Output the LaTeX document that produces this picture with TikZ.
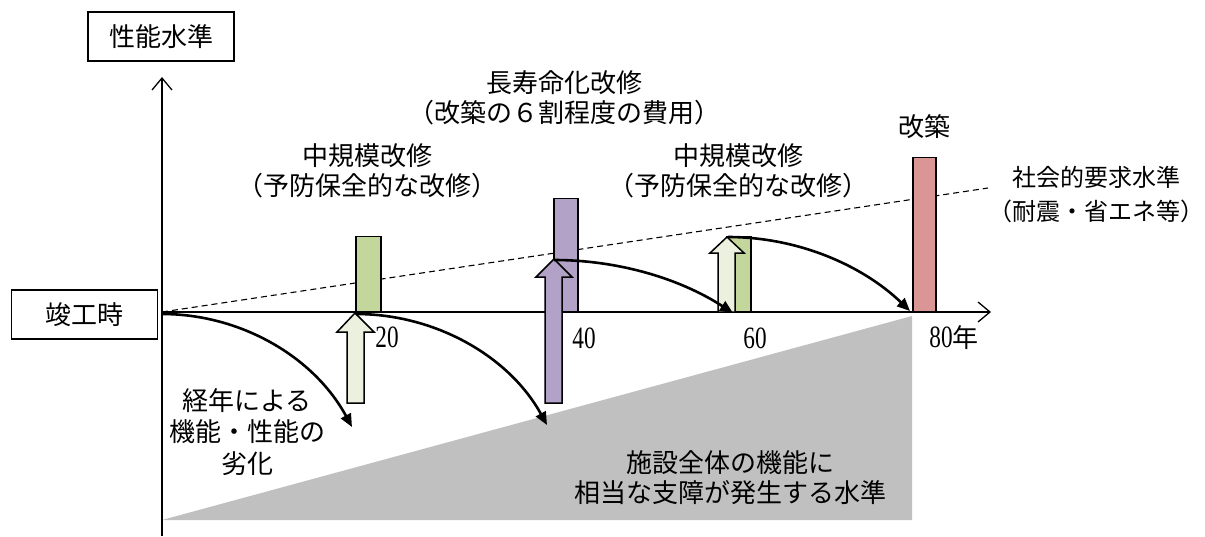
\documentclass[tikz,border=0pt]{standalone}
\usepackage{fontspec}
\setmainfont{Noto Sans CJK JP}
\newfontfamily\numfont[FakeStretch=0.75]{Liberation Serif}
\usetikzlibrary{arrows.meta}
\definecolor{greenbar}{RGB}{195,214,155}
\definecolor{lightgreen}{RGB}{235,241,222}
\definecolor{purplebar}{RGB}{179,162,199}
\definecolor{redbar}{RGB}{217,150,148}
\definecolor{limitgray}{RGB}{192,192,192}
\tikzset{
  lbl/.style={font=\fontsize{26}{30}\selectfont, inner sep=0pt, align=center},
  labelbox/.style={draw, line width=1.3pt, minimum width=146pt, minimum height=49pt, inner sep=0pt, font=\fontsize{26}{30}\selectfont},
  num/.style={font={\numfont\fontsize{31}{31}\selectfont}, inner sep=0pt},
  axisline/.style={line width=1.3pt, -{Straight Barb[length=12pt,width=20pt]}},
  dashline/.style={line width=1.1pt, dash pattern=on 6pt off 4pt},
  barbox/.style={draw, line width=1.5pt, inner sep=0pt, anchor=south west},
  blockarrow/.style={draw, line width=1.5pt, line join=miter},
  decay/.style={line width=2.6pt, -{Triangle[length=13pt,width=11pt]}},
}
\begin{document}
\begin{tikzpicture}[x=1pt,y=-1pt]
\useasboundingbox (0,0) rectangle (1205,536);
% limit zone
\fill[limitgray] (162,520) -- (912,316) -- (912,520) -- cycle;
% axes
\coordinate (O) at (162,312);
\coordinate (ytop) at (162,77);
\coordinate (ybot) at (162,536);
\coordinate (xend) at (991,312);
\coordinate (req) at (988,188);
\draw[dashline] (O) -- (req);
\draw[axisline] (ybot) -- (ytop);
\draw[axisline] (O) -- (xend);
% bars
\node[barbox, fill=greenbar, minimum width=25pt, minimum height=75pt] (b20) at (355,312) {};
\node[barbox, fill=purplebar, minimum width=24pt, minimum height=113pt] (b40) at (553,312) {};
\node[barbox, fill=greenbar, minimum width=24pt, minimum height=75pt] (b60) at (726,312) {};
\node[barbox, fill=redbar, minimum width=23pt, minimum height=154pt] (b80) at (912,312) {};
% block arrows
\draw[blockarrow, fill=lightgreen] (355,313) -- (374,332) -- (364,332) -- (364,403) -- (347,403) -- (347,332) -- (337,332) -- cycle;
\draw[blockarrow, fill=purplebar] (554,259) -- (572,277) -- (562,277) -- (562,403) -- (545,403) -- (545,277) -- (536,277) -- cycle;
\draw[blockarrow, fill=lightgreen] (727,237) -- (744,253) -- (735,253) -- (735,312) -- (718,312) -- (718,253) -- (710,253) -- cycle;
% decay curves
\coordinate (c1s) at (162,314); \coordinate (c1e) at (352,427);
\coordinate (c2s) at (356,314); \coordinate (c2e) at (547,425);
\coordinate (c3s) at (554,260); \coordinate (c3e) at (733,313);
\coordinate (c4s) at (728,237); \coordinate (c4e) at (910,311);
\draw[decay] (c1s) .. controls (241,314) and (314,357) .. (c1e);
\draw[decay] (c2s) .. controls (435,314) and (509,356) .. (c2e);
\draw[decay] (c3s) .. controls (617,260) and (679,278) .. (c3e);
\draw[decay] (c4s) .. controls (796,237) and (861,264) .. (c4e);
% boxes
\node[labelbox] (yl) at (161,36.5) {性能水準};
\node[labelbox] (start) at (84.5,314.5) {竣工時};
% labels
\node[lbl] (t40) at (564,98) {長寿命化改修\\（改築の６割程度の費用）};
\node[lbl] (t20) at (367,171) {中規模改修\\（予防保全的な改修）};
\node[lbl] (t60) at (738,171) {中規模改修\\（予防保全的な改修）};
\node[lbl] (t80) at (924,127) {改築};
\node[lbl, font=\fontsize{24}{34}\selectfont] (treq) at (1096,195) {社会的要求水準\\（耐震・省エネ等）};
\node[lbl, font=\fontsize{26}{31.5}\selectfont] (tdecay) at (247,432) {経年による\\機能・性能の\\劣化};
\node[lbl] (tlimit) at (730,478) {施設全体の機能に\\相当な支障が発生する水準};
% ticks
\node[num] (n20) at (387,337) {20};
\node[num] (n40) at (584,338) {40};
\node[num] (n60) at (755,338) {60};
\node[num] (n80) at (954,338) {80{\rmfamily\fontsize{26}{26}\selectfont 年}};
\end{tikzpicture}
\end{document}
